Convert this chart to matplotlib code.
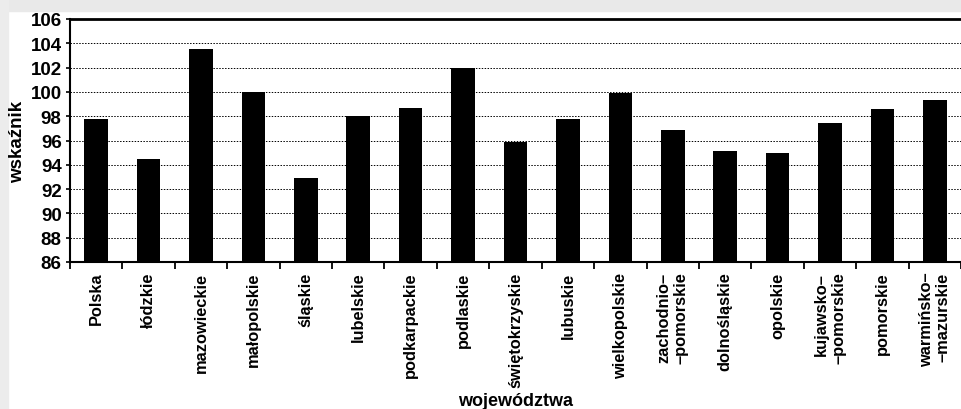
import numpy as np
import matplotlib.pyplot as plt
from matplotlib.patches import Rectangle

# wskaźnik wg województw
regions = ["Polska", "łódzkie", "mazowieckie", "małopolskie", "śląskie",
           "lubelskie", "podkarpackie", "podlaskie", "świętokrzyskie",
           "lubuskie", "wielkopolskie", "zachodnio–\n–pomorskie",
           "dolnośląskie", "opolskie", "kujawsko–\n–pomorskie", "pomorskie",
           "warmińsko–\n–mazurskie"]
values = [97.8, 94.5, 103.5, 100.0, 92.9, 98.0, 98.7, 102.0, 95.9,
          97.8, 99.9, 96.9, 95.1, 95.0, 97.4, 98.6, 99.3]
y_ticks = list(range(86, 107, 2))

narrow = ["Liberation Sans Narrow", "Liberation Sans", "DejaVu Sans"]
wide = ["Liberation Sans", "DejaVu Sans"]
plt.rcParams['font.family'] = narrow
plt.rcParams['font.weight'] = 'bold'

fig = plt.figure(figsize=(9.62, 4.1), dpi=100)
fig.patch.set_facecolor("white")
# scanned page margins
fig.patches.append(Rectangle((0, 1 - 12 / 410), 1, 12 / 410, transform=fig.transFigure,
                             color="#e9e9e9", zorder=0))
fig.patches.append(Rectangle((0, 0), 8 / 962, 1, transform=fig.transFigure,
                             color="#ececec", zorder=0))

ax = fig.add_axes([70 / 962, 1 - 263 / 410, 891 / 962, 243 / 410])

x = np.arange(len(regions))
ax.bar(x, np.array(values) - 86, bottom=86, width=0.45, color="black", zorder=3)

ax.set_xlim(-0.5, len(regions) - 0.5)
ax.set_ylim(86, 106)
ax.set_yticks(y_ticks)
ax.set_yticklabels([str(t) for t in y_ticks], fontsize=13.5, fontweight='bold',
                   family=wide)
ax.grid(axis='y', linestyle=(0, (1.5, 1.5)), color='black', linewidth=0.7, zorder=1)

# ticks between categories, labels at centres
ax.set_xticks(np.arange(-0.5, len(regions), 1))
ax.set_xticklabels([])
ax.set_xticks(x, minor=True)
ax.set_xticklabels(regions, minor=True, rotation=90, fontsize=11.8,
                   fontweight='bold', va='top', ha='center', linespacing=1.2,
                   multialignment='right')
ax.tick_params(axis='x', which='major', direction='out', length=5, width=1.3)
ax.tick_params(axis='x', which='minor', length=0, pad=7)
ax.tick_params(axis='y', direction='out', length=3, width=1.2, pad=3)

ax.spines['right'].set_visible(False)
ax.spines['top'].set_linewidth(2)
ax.spines['left'].set_linewidth(1.5)
ax.spines['bottom'].set_linewidth(1.5)

fig.text(18 / 962, 1 - 142 / 410, "wskaźnik", rotation=90, ha='center', va='center',
         fontsize=13.5, fontweight='bold', family=wide)
fig.text(516 / 962, 1 - 402 / 410, "województwa", ha='center', va='center',
         fontsize=13, fontweight='bold')

plt.savefig("out.png", dpi=100)
